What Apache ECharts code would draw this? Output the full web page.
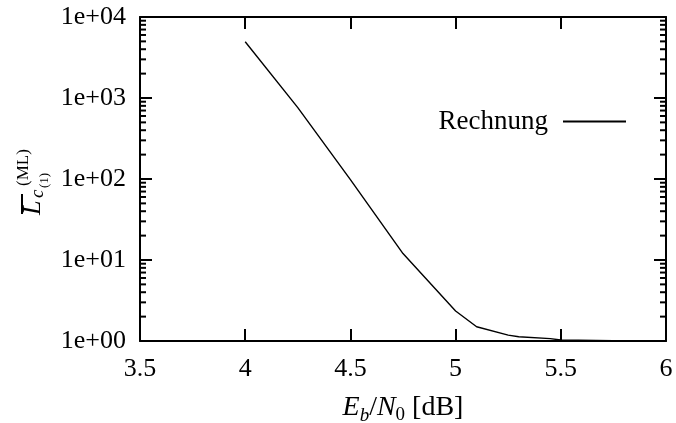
<!DOCTYPE html>
<html>
<head>
<meta charset="utf-8">
<script src="https://cdn.jsdelivr.net/npm/echarts@6/dist/echarts.min.js"></script>
<style>
html,body{margin:0;padding:0;background:#fff;}
#chart{width:676px;height:423px;}
</style>
</head>
<body>
<div id="chart"></div>
<script>
// ---- data ----
const ebn0 = [4, 4.25, 4.5, 4.75, 5, 5.1, 5.25, 5.3, 5.45, 5.5, 5.75, 6];
const lcml = [4950, 760, 98, 12, 2.35, 1.5, 1.18, 1.13, 1.07, 1.03, 1.005, 1.0];
const seriesName = 'Rechnung';
const xTicks = [3.5, 4, 4.5, 5, 5.5, 6];
const yDecades = [1, 10, 100, 1000, 10000];

const FONT = 'Liberation Serif';
const lineData = ebn0.map((x, i) => [x, lcml[i]]);

// minor log ticks (2..9 per decade) derived from decade ticks
const minorTicks = [];
for (let i = 0; i < yDecades.length - 1; i++) {
  for (let m = 2; m <= 9; m++) minorTicks.push([xTicks[0], m * yDecades[i]]);
}

const chart = echarts.init(document.getElementById('chart'), null, {renderer: 'canvas'});

const tickStyle = {show: true, inside: true, length: 12, lineStyle: {color: '#000', width: 2}};
const axisLineStyle = {show: true, onZero: false, lineStyle: {color: '#000', width: 2}};

function fmtExp(v) {
  const e = Math.round(Math.log10(v));
  return '1e+' + (e < 10 ? '0' : '') + e;
}

const option = {
  animation: false,
  backgroundColor: '#fff',
  grid: {left: 140, right: 10, top: 17, bottom: 82, containLabel: false, outerBoundsMode: 'none'},
  legend: {
    data: [{name: seriesName, icon: 'rect'}],
    right: 50,
    top: 108,
    padding: 0,
    align: 'right',
    itemWidth: 63,
    itemHeight: 2,
    textStyle: {fontFamily: FONT, fontSize: 27, color: '#000', padding: [0, 10, 0, 0]}
  },
  xAxis: [
    {
      type: 'value', min: xTicks[0], max: xTicks[xTicks.length - 1], interval: 0.5,
      position: 'bottom',
      axisLine: axisLineStyle,
      axisTick: tickStyle,
      splitLine: {show: false},
      axisLabel: {fontFamily: FONT, fontSize: 26, color: '#000', margin: 15},
      name: '{i|E}{s|b}{n|/}{i|N}{z|0}{n| [dB]}',
      nameLocation: 'middle',
      nameGap: 53,
      nameTextStyle: {
        fontFamily: FONT, fontSize: 28, color: '#000',
        rich: {
          i: {fontFamily: FONT, fontSize: 28, fontStyle: 'italic', color: '#000'},
          n: {fontFamily: FONT, fontSize: 28, color: '#000'},
          s: {fontFamily: FONT, fontSize: 19, fontStyle: 'italic', color: '#000', verticalAlign: 'bottom', padding: [0, 0, -3, 0]},
          z: {fontFamily: FONT, fontSize: 19, color: '#000', verticalAlign: 'bottom', padding: [0, 0, -3, 0]}
        }
      }
    },
    {
      type: 'value', min: xTicks[0], max: xTicks[xTicks.length - 1], interval: 0.5,
      position: 'top',
      axisLine: axisLineStyle,
      axisTick: tickStyle,
      splitLine: {show: false},
      axisLabel: {show: false}
    }
  ],
  yAxis: [
    {
      type: 'log', logBase: 10, min: yDecades[0], max: yDecades[yDecades.length - 1],
      position: 'left',
      axisLine: axisLineStyle,
      axisTick: tickStyle,
      splitLine: {show: false},
      minorTick: {show: false},
      axisLabel: {fontFamily: FONT, fontSize: 26, color: '#000', margin: 14, formatter: fmtExp}
    },
    {
      type: 'log', logBase: 10, min: yDecades[0], max: yDecades[yDecades.length - 1],
      position: 'right',
      axisLine: axisLineStyle,
      axisTick: tickStyle,
      splitLine: {show: false},
      axisLabel: {show: false}
    }
  ],
  graphic: [
    {
      type: 'group',
      x: 41, y: 215,
      rotation: Math.PI / 2,
      silent: true,
      children: [
        {type: 'text', x: 0, y: 5, style: {text: 'L', font: 'italic 26px "Liberation Serif"', fill: '#000', verticalAlign: 'bottom', align: 'left'}},
        {type: 'line', shape: {x1: 1, y1: -19, x2: 21, y2: -19}, style: {stroke: '#000', lineWidth: 2}},
        {type: 'text', x: 17, y: 6, style: {text: 'c', font: 'italic 19px "Liberation Serif"', fill: '#000', verticalAlign: 'bottom', align: 'left'}},
        {type: 'text', x: 27, y: 10, style: {text: '(1)', font: '13px "Liberation Serif"', fill: '#000', verticalAlign: 'bottom', align: 'left'}},
        {type: 'text', x: 29, y: -9, style: {text: '(ML)', font: '17px "Liberation Serif"', fill: '#000', verticalAlign: 'bottom', align: 'left'}}
      ]
    }
  ],
  series: [
    {
      name: seriesName,
      type: 'line',
      data: lineData,
      xAxisIndex: 0, yAxisIndex: 0,
      symbol: 'none',
      showSymbol: false,
      lineStyle: {color: '#000', width: 1.4},
      itemStyle: {color: '#000'},
      z: 3
    },
    {
      type: 'custom',
      xAxisIndex: 0, yAxisIndex: 0,
      silent: true,
      clip: false,
      data: minorTicks,
      encode: {x: 0, y: 1},
      renderItem: function (params, api) {
        const v = api.value(1);
        const pl = api.coord([xTicks[0], v]);
        const pr = api.coord([xTicks[xTicks.length - 1], v]);
        return {
          type: 'group',
          children: [
            {type: 'line', shape: {x1: pl[0], y1: pl[1], x2: pl[0] + 6, y2: pl[1]}, style: {stroke: '#000', lineWidth: 2}},
            {type: 'line', shape: {x1: pr[0], y1: pr[1], x2: pr[0] - 6, y2: pr[1]}, style: {stroke: '#000', lineWidth: 2}}
          ]
        };
      },
      z: 4
    }
  ]
};
chart.setOption(option);
</script>
</body>
</html>
